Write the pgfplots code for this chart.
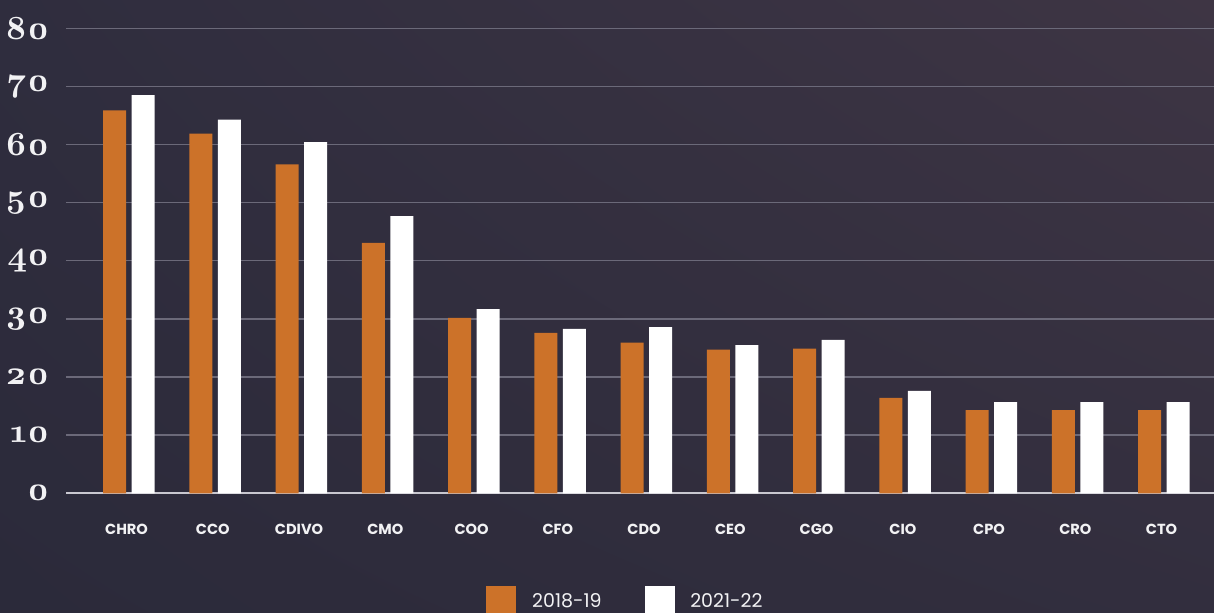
\documentclass[border=0pt]{standalone}
\usepackage{pgfplots}
\pgfplotsset{compat=1.18}
\usetikzlibrary{shadings}
\usepackage{fontspec}
\newfontfamily\sansfont{Poppins}
\newfontfamily\oldnums{lmroman10-bold}[Extension=.otf, Numbers=OldStyle]

\definecolor{bgLL}{HTML}{2B2A3A}
\definecolor{bgUL}{HTML}{2F2D3E}
\definecolor{bgLR}{HTML}{322E3E}
\definecolor{bgUR}{HTML}{3E3544}
\definecolor{barOrange}{HTML}{CC7229}
\definecolor{gridGrey}{HTML}{6B6979}
\definecolor{baseGrey}{HTML}{C9C8D0}
\definecolor{labelWhite}{HTML}{F2F2F4}

\begin{document}
\begin{tikzpicture}
% canvas: 1 px = 0.5 pt
\useasboundingbox (0pt,0pt) rectangle (607pt,306.5pt);
\shade[lower left=bgLL, upper left=bgUL, lower right=bgLR, upper right=bgUR]
  (0pt,0pt) rectangle (607pt,306.5pt);
\begin{axis}[
  at={(33pt,59.85pt)}, anchor=south west,
  scale only axis, width=574pt, height=232.5pt,
  xmin=-0.73, xmax=12.58, ymin=0, ymax=80,
  axis line style={draw=none},
  major tick length=0pt,
  ytick={10,20,...,80},
  extra y ticks={0},
  extra y tick style={grid style={color=baseGrey, line width=0.8pt}},
  ymajorgrids,
  grid style={color=gridGrey, line width=0.7pt},
  /pgf/number format/assume math mode=true,
  yticklabel style={font=\oldnums\fontsize{17}{17}\selectfont,
    text=labelWhite, anchor=east, inner sep=0pt, xshift=-8pt},
  xtick={0,...,12},
  xticklabels={CHRO,CCO,CDIVO,CMO,COO,CFO,CDO,CEO,CGO,CIO,CPO,CRO,CTO},
  xticklabel style={font=\sansfont\bfseries\fontsize{7.3}{9}\selectfont,
    text=labelWhite, anchor=base, inner sep=0pt, yshift=-20.5pt, xshift=-1.2pt},
  ybar, bar width=11.5pt,
  legend columns=2,
  legend image code/.code={\fill[#1] (0pt,-7pt) rectangle (15pt,8pt);},
  legend style={at={(0.3659,-0.1994)}, anchor=north west, draw=none, fill=none,
    inner sep=0pt, nodes={inner sep=0pt, text=labelWhite,
    font=\sansfont\fontsize{9.5}{11}\selectfont},
    /tikz/every odd column/.style={column sep=7.85pt},
    /tikz/every even column/.style={column sep=21.5pt}},
]
\addplot[fill=barOrange, draw=none, bar shift=-7.125pt] coordinates {
  (0,65.9) (1,61.9) (2,56.6) (3,43.1) (4,30.2) (5,27.6) (6,25.9)
  (7,24.7) (8,24.9) (9,16.4) (10,14.3) (11,14.3) (12,14.3)};
\addplot[fill=white, draw=none, bar shift=7.125pt] coordinates {
  (0,68.5) (1,64.3) (2,60.4) (3,47.7) (4,31.7) (5,28.3) (6,28.6)
  (7,25.5) (8,26.4) (9,17.6) (10,15.7) (11,15.7) (12,15.7)};
\legend{2018-19,2021-22}
\end{axis}
\end{tikzpicture}
\end{document}
